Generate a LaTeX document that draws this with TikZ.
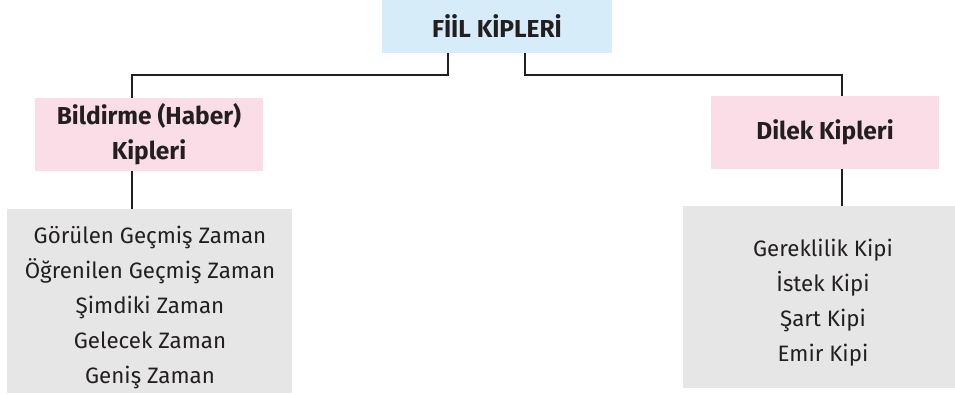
\documentclass[tikz,border=0pt]{standalone}
\usepackage{fontspec}
\setmainfont{Fira Sans}
\definecolor{topblue}{HTML}{D6ECF9}
\definecolor{pinkbox}{HTML}{FBDDE8}
\definecolor{graybox}{HTML}{E6E6E7}
\definecolor{txt}{HTML}{231F20}
\begin{document}
\begin{tikzpicture}[x=1pt,y=-1pt,
  boxbase/.style={rectangle, inner sep=0pt, text=txt, align=center},
  headbox/.style={boxbase, font=\fontsize{24.5}{35}\selectfont\bfseries},
  listbox/.style={boxbase, fill=graybox},
  listtext/.style={text=txt, align=center, inner sep=0pt, font=\fontsize{22.3}{35}\selectfont},
  conn/.style={draw=txt, line width=2.4pt}]
\useasboundingbox (0,0) rectangle (955,395);
\node[headbox, fill=topblue, minimum width=230pt, minimum height=53pt] (top) at (497,26.5) {FİİL KİPLERİ};
\node[headbox, fill=pinkbox, minimum width=228pt, minimum height=73pt] (lp) at (149,134.5) {Bildirme (Haber)\\Kipleri};
\node[headbox, fill=pinkbox, minimum width=228pt, minimum height=73pt] (rp) at (825,132.5) {Dilek Kipleri};
\node[listbox, minimum width=285pt, minimum height=184pt] (lg) at (149.5,301) {};
\node[listbox, minimum width=272pt, minimum height=182pt] (rg) at (819,297) {};
\node[listtext] (lt) at (150,307) {Görülen Geçmiş Zaman\\Öğrenilen Geçmiş Zaman\\Şimdiki Zaman\\Gelecek Zaman\\Geniş Zaman};
\node[listtext] (rt) at (823,303) {Gereklilik Kipi\\İstek Kipi\\Şart Kipi\\Emir Kipi};
\coordinate (lx) at (132,0);
\coordinate (rx) at (842,0);
\coordinate (tlx) at (448,0);
\coordinate (trx) at (525,0);
\coordinate (jy) at (0,75);
\draw[conn] (top.south -| tlx) -- (jy -| tlx) -| (lp.north -| lx);
\draw[conn] (top.south -| trx) -- (jy -| trx) -| (rp.north -| rx);
\draw[conn] (lp.south -| lx) -- (lg.north -| lx);
\draw[conn] (rp.south -| rx) -- (rg.north -| rx);
\end{tikzpicture}
\end{document}
